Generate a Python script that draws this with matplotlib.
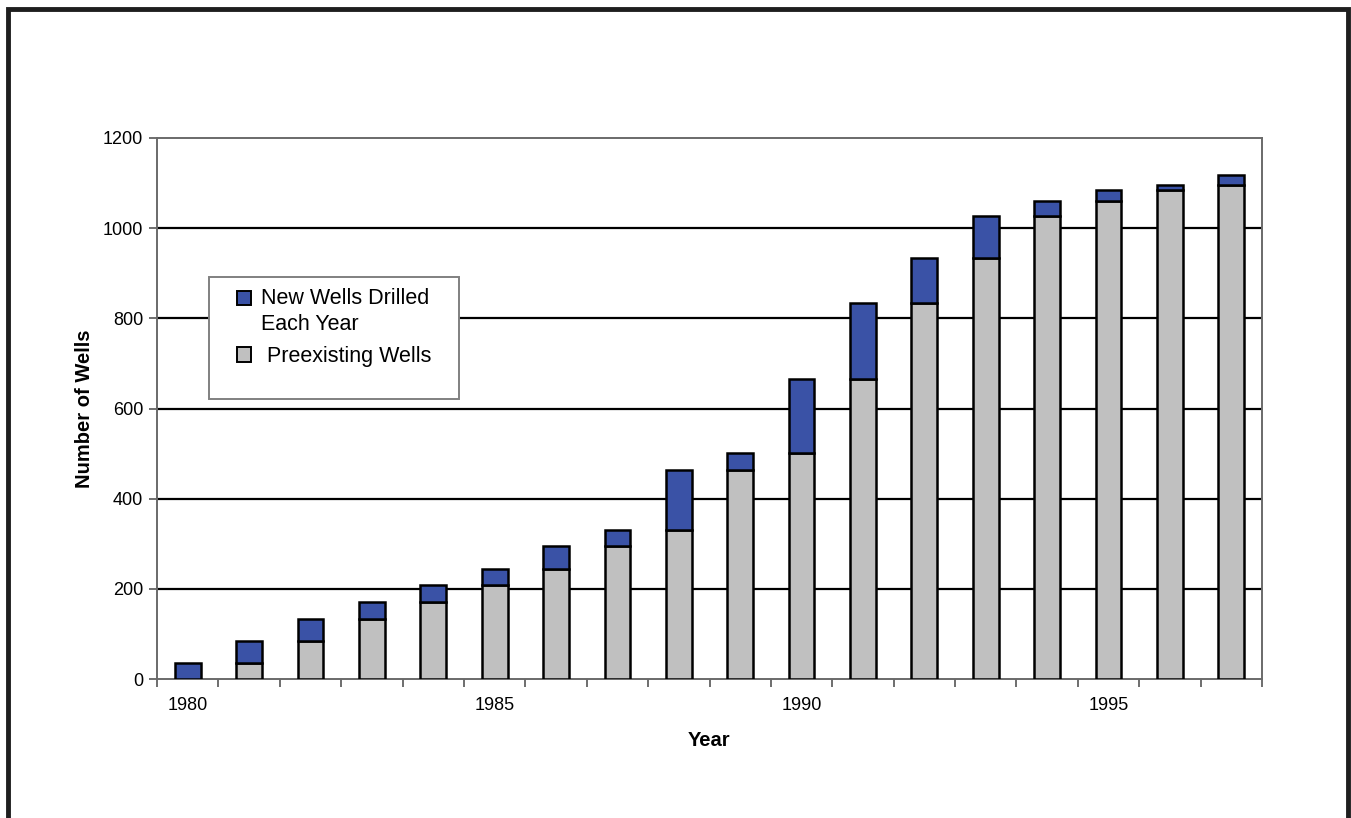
import numpy as np
import matplotlib
matplotlib.use("Agg")
from matplotlib import pyplot as plt
from matplotlib.patches import Rectangle, Patch
from matplotlib.lines import Line2D
from matplotlib.legend_handler import HandlerPatch

plt.rcParams["font.family"] = ["Liberation Sans", "DejaVu Sans"]

# godine i broj bušotina (očitano sa slike)
godine = list(range(1980, 1998))
postojece = [0, 35, 85, 134, 171, 208, 243, 296, 330, 463, 502, 666, 833, 933, 1027, 1061, 1085, 1095]
nove = [35, 50, 49, 37, 37, 35, 53, 34, 133, 39, 164, 167, 100, 94, 34, 24, 10, 22]
oznake_godina = [1980, 1985, 1990, 1995]
y_ticks = [0, 200, 400, 600, 800, 1000, 1200]

plava = "#3a52a6"
siva = "#c0c0c0"

W, H = 1351, 818
fig = plt.figure(figsize=(W / 100, H / 100), dpi=100)
ax = fig.add_axes([157 / W, 1 - 679 / H, (1262 - 157) / W, (679 - 138) / H])

x = np.arange(len(godine))
sirina = 0.42
ax.bar(x, postojece, sirina, color=siva, edgecolor="black", linewidth=1.8, zorder=3)
ax.bar(x, nove, sirina, bottom=postojece, color=plava, edgecolor="black", linewidth=1.8, zorder=3)

ax.set_xlim(-0.5, len(godine) - 0.5)
ax.set_ylim(0, 1200)
ax.set_yticks(y_ticks)
ax.set_yticklabels([str(v) for v in y_ticks], fontsize=13)
ax.hlines(y_ticks[1:-1], -0.5, len(godine) - 0.5, color="black", linewidth=1.6, zorder=1)

# oznake godina samo za svaku petu, crtice između stupaca
ax.set_xticks([godine.index(g) for g in oznake_godina])
ax.set_xticklabels([str(g) for g in oznake_godina], fontsize=13)
ax.set_xticks(np.arange(-0.5, len(godine)), minor=True)
ax.tick_params(axis="x", which="major", length=0, pad=13)
ax.tick_params(axis="x", which="minor", length=6, width=1.2, color="#555555")
ax.tick_params(axis="y", length=6, width=1.2, color="#555555", pad=4)

for s in ax.spines.values():
    s.set_color("#6a6a6a")
    s.set_linewidth(1.4)

ax.set_ylabel("Number of Wells", fontsize=14.5, fontweight="bold", labelpad=6)
ax.set_xlabel("Year", fontsize=14.5, fontweight="bold", labelpad=12)

# okvir legende
x0 = (209 - 157) / 1105
y1 = (679 - 277) / 541
y0 = (679 - 399) / 541
w = (459 - 209) / 1105
ax.add_patch(Rectangle((x0, y0), w, y1 - y0, transform=ax.transAxes, facecolor="white",
                       edgecolor="#808080", linewidth=1.4, zorder=4))


# kvadratić u legendi poravnat s prvim redom teksta
def kvadrat_gore(legend, orig_handle, xdescent, ydescent, width, height, fontsize):
    return Rectangle((-xdescent, -ydescent + 0.65 * fontsize), width, height)


ruke = [Patch(facecolor=plava, edgecolor="black", linewidth=1.4),
        Patch(facecolor=siva, edgecolor="black", linewidth=1.4)]
leg = ax.legend(ruke, ["New Wells Drilled\nEach Year", " Preexisting Wells"],
                loc="upper left", bbox_to_anchor=(x0 + 0.008, y1 + 0.015), frameon=False,
                fontsize=15.5, handlelength=0.65, handleheight=0.65, handletextpad=0.45,
                labelspacing=0.5,
                handler_map={ruke[0]: HandlerPatch(patch_func=kvadrat_gore)})
leg.get_texts()[0].set_linespacing(1.32)
leg.set_zorder(5)

# debeli crni okvir oko slike
okvir = Line2D([8 / W, 8 / W, 1348 / W, 1348 / W], [-0.05, 1 - 9 / H, 1 - 9 / H, -0.05],
               transform=fig.transFigure, color="#1e1e1e", linewidth=3.5,
               solid_joinstyle="miter", clip_on=False)
fig.add_artist(okvir)

fig.savefig("out.png", dpi=100, facecolor="white")
